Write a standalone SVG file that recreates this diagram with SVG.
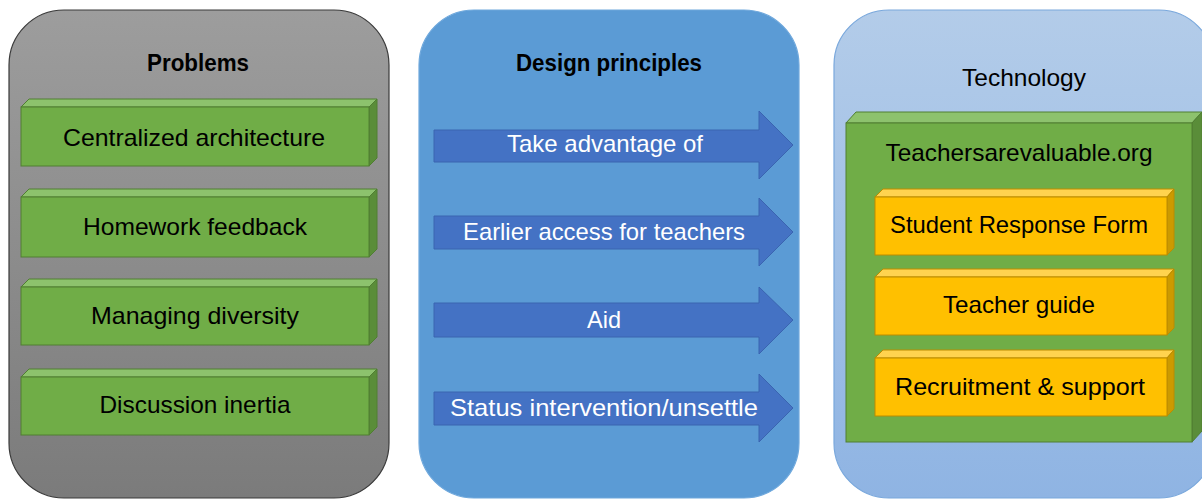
<svg xmlns="http://www.w3.org/2000/svg" width="1202" height="499" viewBox="0 0 1202 499">
  <defs>
    <linearGradient id="grayFill" x1="0" y1="0" x2="0" y2="1">
      <stop offset="0" stop-color="#9d9d9d"/>
      <stop offset="1" stop-color="#7b7b7b"/>
    </linearGradient>
    <linearGradient id="lightBlueFill" x1="0" y1="0" x2="0" y2="1">
      <stop offset="0" stop-color="#b3cce9"/>
      <stop offset="1" stop-color="#8fb4e3"/>
    </linearGradient>
    <style>
      text { font-family: "Liberation Sans", Arial, sans-serif; text-anchor: middle; }
      .title { font-size: 24px; font-weight: bold; fill: #000; }
      .label { font-size: 24px; fill: #000; }
      .arrowLabel { font-size: 24px; fill: #fff; }
      .gFront { fill: #70ad47; stroke: #507e32; stroke-width: 1; }
      .gTop { fill: #8dc26d; stroke: #507e32; stroke-width: 1; }
      .gSide { fill: #5a8d39; stroke: #507e32; stroke-width: 1; }
      .yFront { fill: #ffc000; stroke: #bc8c00; stroke-width: 1; }
      .yTop { fill: #ffd34f; stroke: #bc8c00; stroke-width: 1; }
      .ySide { fill: #cc9a00; stroke: #bc8c00; stroke-width: 1; }
      .arrow { fill: #4472c4; stroke: #3a64b0; stroke-width: 1; }
    </style>
  </defs>

  <!-- Column backgrounds -->
  <g id="problems-panel">
    <rect x="9" y="10" width="380" height="488" rx="55" ry="55" fill="url(#grayFill)" stroke="#3a3a3a" stroke-width="1.2"/>
    <text class="title" x="198" y="71" textLength="102" lengthAdjust="spacingAndGlyphs">Problems</text>
  </g>
  <g id="principles-panel">
    <rect x="419" y="10" width="380" height="488" rx="55" ry="55" fill="#5b9bd5" stroke="#6fa8dc" stroke-width="1.2"/>
    <text class="title" x="609" y="71" textLength="186" lengthAdjust="spacingAndGlyphs">Design principles</text>
  </g>
  <g id="technology-panel">
    <rect x="834" y="10" width="380" height="488" rx="55" ry="55" fill="url(#lightBlueFill)" stroke="#7aa8dc" stroke-width="1.2"/>
    <text class="label" x="1024" y="86" textLength="124" lengthAdjust="spacingAndGlyphs">Technology</text>
  </g>

  <!-- Problems: bevelled boxes -->
  <g id="problem-centralized">
    <polygon class="gTop" points="21,107 29,99 377,99 369,107"/>
    <polygon class="gSide" points="369,107 377,99 377,158 369,166"/>
    <rect class="gFront" x="21" y="107" width="348" height="59"/>
    <text class="label" x="194" y="146" textLength="262" lengthAdjust="spacingAndGlyphs">Centralized architecture</text>
  </g>
  <g id="problem-homework">
    <polygon class="gTop" points="21,197 29,189 377,189 369,197"/>
    <polygon class="gSide" points="369,197 377,189 377,249 369,257"/>
    <rect class="gFront" x="21" y="197" width="348" height="60"/>
    <text class="label" x="195" y="235" textLength="224" lengthAdjust="spacingAndGlyphs">Homework feedback</text>
  </g>
  <g id="problem-diversity">
    <polygon class="gTop" points="21,287 29,279 377,279 369,287"/>
    <polygon class="gSide" points="369,287 377,279 377,337 369,345"/>
    <rect class="gFront" x="21" y="287" width="348" height="58"/>
    <text class="label" x="195" y="324" textLength="208" lengthAdjust="spacingAndGlyphs">Managing diversity</text>
  </g>
  <g id="problem-inertia">
    <polygon class="gTop" points="21,377 29,369 377,369 369,377"/>
    <polygon class="gSide" points="369,377 377,369 377,427 369,435"/>
    <rect class="gFront" x="21" y="377" width="348" height="58"/>
    <text class="label" x="195" y="413" textLength="191" lengthAdjust="spacingAndGlyphs">Discussion inertia</text>
  </g>

  <!-- Design principles: block arrows -->
  <g id="connectors">
    <g id="principle-advantage">
      <polygon class="arrow" points="434,130 759,130 759,111 793,145 759,179 759,162 434,162"/>
      <text class="arrowLabel" x="605" y="152" textLength="196" lengthAdjust="spacingAndGlyphs">Take advantage of</text>
    </g>
    <g id="principle-access">
      <polygon class="arrow" points="434,216 759,216 759,198 793,232 759,266 759,249 434,249"/>
      <text class="arrowLabel" x="604" y="240" textLength="282" lengthAdjust="spacingAndGlyphs">Earlier access for teachers</text>
    </g>
    <g id="principle-aid">
      <polygon class="arrow" points="434,303 759,303 759,287 793,320 759,354 759,337 434,337"/>
      <text class="arrowLabel" x="604" y="328" textLength="34" lengthAdjust="spacingAndGlyphs">Aid</text>
    </g>
    <g id="principle-status">
      <polygon class="arrow" points="434,392 759,392 759,374 793,408 759,442 759,425 434,425"/>
      <text class="arrowLabel" x="604" y="416" textLength="308" lengthAdjust="spacingAndGlyphs">Status intervention/unsettle</text>
    </g>
  </g>

  <!-- Technology: website block with nested components -->
  <g id="tech-website">
    <polygon class="gTop" points="846,123 856,112 1202,112 1192,123"/>
    <polygon class="gSide" points="1192,123 1202,112 1202,431 1192,442"/>
    <rect class="gFront" x="846" y="123" width="346" height="319"/>
    <text class="label" x="1019" y="161" textLength="267" lengthAdjust="spacingAndGlyphs">Teachersarevaluable.org</text>
  </g>
  <g id="tech-response-form">
    <polygon class="yTop" points="875,197 883,189 1174,189 1167,197"/>
    <polygon class="ySide" points="1167,197 1174,189 1174,248 1167,255"/>
    <rect class="yFront" x="875" y="197" width="292" height="58"/>
    <text class="label" x="1019" y="233" textLength="258" lengthAdjust="spacingAndGlyphs">Student Response Form</text>
  </g>
  <g id="tech-teacher-guide">
    <polygon class="yTop" points="875,277 883,269 1174,269 1167,277"/>
    <polygon class="ySide" points="1167,277 1174,269 1174,328 1167,335"/>
    <rect class="yFront" x="875" y="277" width="292" height="58"/>
    <text class="label" x="1019" y="313" textLength="152" lengthAdjust="spacingAndGlyphs">Teacher guide</text>
  </g>
  <g id="tech-recruitment">
    <polygon class="yTop" points="875,358 883,350 1174,350 1167,358"/>
    <polygon class="ySide" points="1167,358 1174,350 1174,409 1167,416"/>
    <rect class="yFront" x="875" y="358" width="292" height="58"/>
    <text class="label" x="1020" y="395" textLength="250" lengthAdjust="spacingAndGlyphs">Recruitment &amp; support</text>
  </g>
</svg>
